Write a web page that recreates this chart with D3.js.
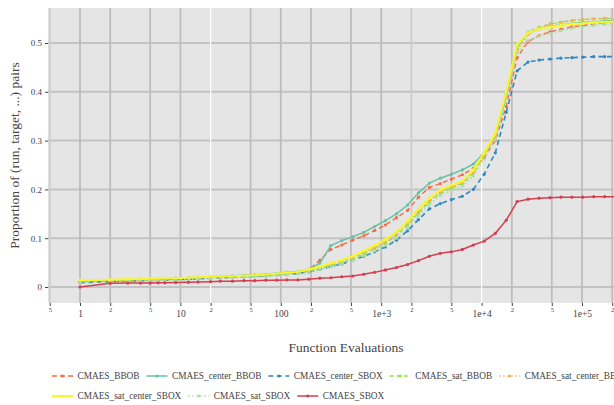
<!DOCTYPE html>
<html>
<head>
<meta charset="utf-8">
<script src="https://cdn.jsdelivr.net/npm/d3@7"></script>
<style>
  body { margin: 0; background: #fff; }
  text { font-family: "Liberation Serif", "Times New Roman", serif; fill: #444; }
</style>
</head>
<body>
<svg id="chart" width="614" height="405"></svg>
<script>
// Evaluation budgets at which the ECDF of (run, target) pairs is recorded
const evaluations = [1, 2, 3, 4, 5, 6, 7, 9, 12, 15, 20, 25, 33, 43, 55, 71, 91, 115, 148, 190,
  245, 315, 405, 520, 670, 860, 1100, 1420, 1830, 2350, 3020, 3880, 5000, 6430, 8270,
  10600, 13700, 17600, 22600, 29000, 37300, 48000, 61700, 79300, 102000, 131000, 168000, 216000];

const cmaesBBOB = [0.010, 0.012, 0.013, 0.014, 0.015, 0.015, 0.016, 0.016, 0.017, 0.018, 0.019, 0.020, 0.021, 0.022, 0.023, 0.024, 0.026, 0.028, 0.030, 0.035,
  0.055, 0.077, 0.086, 0.096, 0.105, 0.116, 0.127, 0.142, 0.157, 0.184, 0.204, 0.212, 0.221, 0.230, 0.243,
  0.265, 0.300, 0.370, 0.470, 0.503, 0.515, 0.523, 0.528, 0.533, 0.536, 0.539, 0.542, 0.545];

const cmaesCenterBBOB = [0.011, 0.013, 0.014, 0.015, 0.016, 0.017, 0.017, 0.018, 0.019, 0.020, 0.021, 0.022, 0.023, 0.024, 0.025, 0.026, 0.028, 0.030, 0.032, 0.036,
  0.049, 0.085, 0.095, 0.103, 0.112, 0.124, 0.136, 0.150, 0.168, 0.193, 0.213, 0.223, 0.231, 0.240, 0.252,
  0.275, 0.310, 0.390, 0.495, 0.520, 0.529, 0.534, 0.537, 0.540, 0.542, 0.543, 0.545, 0.546];

const cmaesCenterSBOX = [0.009, 0.011, 0.012, 0.013, 0.013, 0.014, 0.014, 0.015, 0.016, 0.017, 0.018, 0.019, 0.020, 0.021, 0.022, 0.023, 0.025, 0.026, 0.028, 0.031,
  0.036, 0.042, 0.047, 0.055, 0.063, 0.072, 0.082, 0.096, 0.115, 0.138, 0.160, 0.171, 0.179, 0.186, 0.200,
  0.231, 0.275, 0.358, 0.443, 0.461, 0.465, 0.467, 0.469, 0.470, 0.471, 0.472, 0.472, 0.472];

const cmaesSatBBOB = [0.011, 0.013, 0.014, 0.015, 0.015, 0.016, 0.016, 0.017, 0.018, 0.019, 0.020, 0.021, 0.021, 0.022, 0.023, 0.024, 0.026, 0.027, 0.029, 0.033,
  0.038, 0.044, 0.050, 0.058, 0.068, 0.079, 0.090, 0.106, 0.127, 0.152, 0.175, 0.192, 0.203, 0.212, 0.234,
  0.270, 0.310, 0.395, 0.490, 0.523, 0.532, 0.539, 0.543, 0.546, 0.548, 0.549, 0.550, 0.550];

const cmaesSatCenterBBOB = [0.012, 0.014, 0.015, 0.016, 0.016, 0.017, 0.017, 0.018, 0.019, 0.020, 0.021, 0.022, 0.022, 0.023, 0.024, 0.025, 0.027, 0.028, 0.030, 0.035,
  0.041, 0.047, 0.053, 0.061, 0.071, 0.082, 0.094, 0.110, 0.131, 0.156, 0.178, 0.195, 0.205, 0.214, 0.236,
  0.270, 0.308, 0.390, 0.485, 0.518, 0.530, 0.537, 0.542, 0.546, 0.549, 0.550, 0.551, 0.552];

const cmaesSatCenterSBOX = [0.014, 0.015, 0.016, 0.016, 0.017, 0.017, 0.018, 0.018, 0.019, 0.020, 0.021, 0.022, 0.022, 0.023, 0.024, 0.025, 0.027, 0.029, 0.031, 0.036,
  0.042, 0.049, 0.055, 0.063, 0.074, 0.085, 0.097, 0.113, 0.135, 0.160, 0.182, 0.199, 0.209, 0.217, 0.240,
  0.275, 0.315, 0.400, 0.497, 0.521, 0.529, 0.533, 0.536, 0.539, 0.540, 0.542, 0.543, 0.544];

const cmaesSatSBOX = [0.008, 0.010, 0.011, 0.012, 0.013, 0.013, 0.014, 0.014, 0.015, 0.016, 0.017, 0.018, 0.019, 0.020, 0.021, 0.022, 0.024, 0.025, 0.027, 0.031,
  0.036, 0.041, 0.047, 0.054, 0.064, 0.074, 0.085, 0.100, 0.121, 0.146, 0.169, 0.187, 0.198, 0.207, 0.228,
  0.262, 0.302, 0.385, 0.480, 0.505, 0.514, 0.520, 0.525, 0.530, 0.533, 0.536, 0.538, 0.540];

const cmaesSBOX = [0.000, 0.0076, 0.008, 0.008, 0.008, 0.0085, 0.0085, 0.009, 0.0095, 0.010, 0.011, 0.012, 0.012, 0.013, 0.013, 0.014, 0.014, 0.0145, 0.0145, 0.016,
  0.018, 0.019, 0.021, 0.0225, 0.026, 0.030, 0.035, 0.040, 0.046, 0.054, 0.063, 0.069, 0.072, 0.077, 0.086,
  0.094, 0.110, 0.137, 0.175, 0.180, 0.182, 0.183, 0.184, 0.184, 0.184, 0.185, 0.185, 0.185];

const seriesNames = ["CMAES_BBOB", "CMAES_center_BBOB", "CMAES_center_SBOX", "CMAES_sat_BBOB",
  "CMAES_sat_center_BBOB", "CMAES_sat_center_SBOX", "CMAES_sat_SBOX", "CMAES_SBOX"];
const seriesValues = [cmaesBBOB, cmaesCenterBBOB, cmaesCenterSBOX, cmaesSatBBOB,
  cmaesSatCenterBBOB, cmaesSatCenterSBOX, cmaesSatSBOX, cmaesSBOX];

const xTickValues = [0.5, 1, 2, 5, 10, 20, 50, 100, 200, 500, 1e3, 2e3, 5e3, 1e4, 2e4, 5e4, 1e5, 2e5];
const xTickLabels = ["5", "1", "2", "5", "10", "2", "5", "100", "2", "5", "1e+3", "2", "5", "1e+4", "2", "5", "1e+5", "2"];
const yTickValues = [0, 0.1, 0.2, 0.3, 0.4, 0.5];
const yTickLabels = ["0", "0.1", "0.2", "0.3", "0.4", "0.5"];

// Line appearance per series
const styles = [
  { color: "#f46d43", dash: "5,3", width: 1.4 },
  { color: "#66c2a5", dash: null, width: 1.5 },
  { color: "#3288bd", dash: "5,3.5", width: 1.6 },
  { color: "#8fe23a", dash: "4,3", width: 1.4 },
  { color: "#fdae61", dash: "1.5,2.5", width: 1.6 },
  { color: "#f7f72a", dash: null, width: 2 },
  { color: "#abdda4", dash: "1.5,2.5", width: 1.6 },
  { color: "#d53e4f", dash: null, width: 1.5 }
];

const svg = d3.select("#chart");
const plot = { left: 48, top: 8, right: 644, bottom: 303 };

const x = d3.scaleLog().domain([1, 1e5]).range([80, 582]);
const y = d3.scaleLinear().domain([0, 0.5]).range([287, 43]);

// Panel background
svg.append("rect")
  .attr("x", plot.left).attr("y", plot.top)
  .attr("width", plot.right - plot.left).attr("height", plot.bottom - plot.top)
  .attr("fill", "#e5e5e5");

svg.append("clipPath").attr("id", "panel")
  .append("rect")
  .attr("x", plot.left).attr("y", plot.top)
  .attr("width", plot.right - plot.left).attr("height", plot.bottom - plot.top);

const grid = svg.append("g").attr("clip-path", "url(#panel)");
grid.selectAll("line.hgrid").data(yTickValues).join("line")
  .attr("class", "hgrid")
  .attr("x1", plot.left).attr("x2", plot.right)
  .attr("y1", d => y(d)).attr("y2", d => y(d))
  .attr("stroke", "#c3c3c3").attr("stroke-width", 2);
grid.selectAll("line.vgrid").data(xTickValues).join("line")
  .attr("class", "vgrid")
  .attr("y1", plot.top).attr("y2", plot.bottom)
  .attr("x1", d => x(d)).attr("x2", d => x(d))
  .attr("stroke", d => (d === 20 || d === 1e4) ? "#ffffff" : (d === 0.5 || d === 2e3 ? "#cdcdcd" : "#bdbdbd"))
  .attr("stroke-width", d => (d === 20 || d === 1e4) ? 1.2 : 1.8);

// Axes
const xAxis = d3.axisBottom(x)
  .tickValues(xTickValues)
  .tickFormat((d, i) => xTickLabels[i])
  .tickSize(3).tickPadding(2);
const gx = svg.append("g").attr("transform", `translate(0,${plot.bottom})`).call(xAxis);
gx.select(".domain").remove();
gx.selectAll(".tick line").attr("stroke", "#444");
gx.selectAll(".tick text")
  .attr("fill", "#444")
  .style("font-family", "'Liberation Serif', serif")
  .each(function (d) {
    const major = d >= 1 && Number.isInteger(Math.round(Math.log10(d) * 1e6) / 1e6);
    d3.select(this)
      .style("font-size", major ? "9.5px" : "6.5px")
      .attr("dy", major ? "1.05em" : "0.85em")
      .attr("y", major ? 4 : 3);
  });

const yAxis = d3.axisLeft(y)
  .tickValues(yTickValues)
  .tickFormat((d, i) => yTickLabels[i])
  .tickSize(3).tickPadding(3);
const gy = svg.append("g").attr("transform", `translate(${plot.left},0)`).call(yAxis);
gy.select(".domain").remove();
gy.selectAll(".tick line").attr("stroke", "#444");
gy.selectAll(".tick text")
  .attr("fill", "#444")
  .style("font-family", "'Liberation Serif', serif")
  .style("font-size", "9px");

// Series lines and point markers
const line = d3.line().x(d => x(d[0])).y(d => y(d[1]));
const marks = svg.append("g").attr("clip-path", "url(#panel)");
seriesValues.forEach((vals, i) => {
  const pts = evaluations.map((e, j) => [e, vals[j]]);
  const st = styles[i];
  const g = marks.append("g");
  g.append("path").datum(pts)
    .attr("d", line)
    .attr("fill", "none")
    .attr("stroke", st.color)
    .attr("stroke-width", st.width)
    .attr("stroke-dasharray", st.dash);
  g.selectAll("circle").data(pts).join("circle")
    .attr("cx", d => x(d[0])).attr("cy", d => y(d[1]))
    .attr("r", 1.6)
    .attr("fill", st.color);
});

// Axis titles
svg.append("text")
  .attr("x", 346).attr("y", 352)
  .attr("text-anchor", "middle")
  .style("font-size", "13.5px")
  .text("Function Evaluations");
svg.append("text")
  .attr("transform", "translate(19,155.5) rotate(-90)")
  .attr("text-anchor", "middle")
  .style("font-size", "13.5px")
  .text("Proportion of (run, target, ...) pairs");

// Legend: two rows, items packed left to right
const legendRows = [[0, 1, 2, 3, 4], [5, 6, 7]];
const rowY = [376, 396];
legendRows.forEach((row, r) => {
  let cx = 52;
  row.forEach(i => {
    const st = styles[i];
    const g = svg.append("g").attr("transform", `translate(${cx},${rowY[r]})`);
    g.append("line")
      .attr("x1", 0).attr("x2", 21).attr("y1", 0).attr("y2", 0)
      .attr("stroke", st.color).attr("stroke-width", st.width)
      .attr("stroke-dasharray", st.dash);
    g.append("circle").attr("cx", 10.5).attr("cy", 0).attr("r", 1.6).attr("fill", st.color);
    const t = g.append("text")
      .attr("x", 25.5).attr("y", 0).attr("dy", "0.35em")
      .style("font-size", "9.3px")
      .text(seriesNames[i]);
    cx += 25.5 + t.node().getComputedTextLength() + 7;
  });
});
</script>
</body>
</html>
